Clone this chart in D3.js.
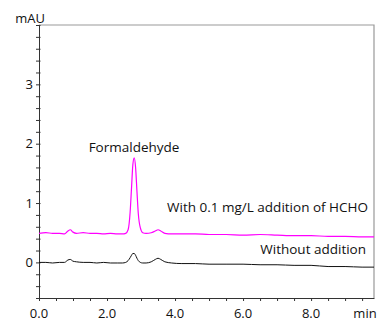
<!DOCTYPE html>
<html>
<head>
<meta charset="utf-8">
<script src="https://cdn.jsdelivr.net/npm/d3@7"></script>
<style>
  body { margin: 0; background: #fff; }
  text { font-family: "Open Sans", sans-serif; fill: #111; }
</style>
</head>
<body>
<div id="chart"></div>
<script>
// retention time (min)
const times = [0, 0.2, 0.4, 0.6, 0.75, 0.85, 0.92, 1.0, 1.1, 1.3, 1.5, 1.7, 1.9, 2.1, 2.3, 2.45,
  2.55, 2.62, 2.68, 2.72, 2.76, 2.8, 2.84, 2.88, 2.92, 2.98, 3.05, 3.15, 3.3, 3.42, 3.5, 3.58,
  3.7, 3.9, 4.2, 4.6, 5.0, 5.5, 6.0, 6.5, 7.0, 7.5, 8.0, 8.5, 9.0, 9.5, 9.85];

// with 0.1 mg/L HCHO added (mAU)
const withHcho = [0.49, 0.50, 0.49, 0.49, 0.48, 0.53, 0.55, 0.51, 0.49, 0.50, 0.49, 0.49, 0.48, 0.49, 0.48, 0.48,
  0.49, 0.55, 0.85, 1.25, 1.65, 1.76, 1.60, 1.20, 0.82, 0.58, 0.50, 0.49, 0.50, 0.53, 0.55, 0.53,
  0.49, 0.48, 0.48, 0.48, 0.47, 0.47, 0.46, 0.47, 0.46, 0.45, 0.45, 0.44, 0.44, 0.43, 0.43];

// without addition (mAU)
const withoutAdd = [0.00, 0.00, -0.01, 0.00, 0.00, 0.04, 0.05, 0.02, 0.01, 0.00, 0.00, -0.01, 0.00, -0.01, -0.01, -0.01,
  0.00, 0.03, 0.08, 0.12, 0.15, 0.15, 0.12, 0.07, 0.03, 0.00, -0.01, -0.01, 0.01, 0.05, 0.07, 0.05,
  0.01, -0.01, -0.02, -0.02, -0.03, -0.03, -0.03, -0.04, -0.04, -0.05, -0.05, -0.07, -0.07, -0.08, -0.08];

const xTickLabels = [0, 2, 4, 6, 8];
const yTickLabels = [0, 1, 2, 3];

const width = 385, height = 322;
const margin = { top: 25, right: 11, bottom: 24, left: 39 };

const x = d3.scaleLinear().domain([0, 9.85]).range([margin.left, width - margin.right]);
const y = d3.scaleLinear().domain([-0.6, 4.0]).range([height - margin.bottom, margin.top]);

const svg = d3.select('#chart')
  .append('svg')
  .attr('width', width)
  .attr('height', height);

// frame: top and right in grey
svg.append('path')
  .attr('d', `M${x(0)},${y(4)}H${x(9.85)}V${y(-0.6)}`)
  .attr('fill', 'none')
  .attr('stroke', '#999')
  .attr('stroke-width', 1.2);

// bottom axis
const xAxis = svg.append('g')
  .attr('transform', `translate(0,${y(-0.6)})`)
  .call(d3.axisBottom(x).tickValues(d3.range(0, 9.85, 0.5)).tickSize(3).tickSizeOuter(0).tickFormat(''));
xAxis.select('.domain').attr('stroke', '#333');
xAxis.selectAll('.tick line').attr('stroke', '#333');

svg.selectAll('.xlab')
  .data(xTickLabels)
  .join('text')
  .attr('class', 'xlab')
  .attr('x', d => x(d))
  .attr('y', 318)
  .attr('text-anchor', 'middle')
  .attr('font-size', 13)
  .text(d => d3.format('.1f')(d));

svg.append('text')
  .attr('x', 365).attr('y', 318)
  .attr('text-anchor', 'middle')
  .attr('font-size', 13)
  .text('min');

// left axis
const yAxis = svg.append('g')
  .attr('transform', `translate(${x(0)},0)`)
  .call(d3.axisLeft(y).tickValues(d3.range(-0.6, 4.01, 0.2)).tickSize(3).tickSizeOuter(0).tickFormat(''));
yAxis.select('.domain').attr('stroke', '#333');
yAxis.selectAll('.tick line').attr('stroke', '#333').attr('x2', 1.5).attr('x1', -3);

svg.selectAll('.ylab')
  .data(yTickLabels)
  .join('text')
  .attr('class', 'ylab')
  .attr('x', 33)
  .attr('y', d => y(d) + 4.5)
  .attr('text-anchor', 'end')
  .attr('font-size', 13)
  .text(d => d);

svg.append('text')
  .attr('x', 45).attr('y', 23)
  .attr('text-anchor', 'end')
  .attr('font-size', 13)
  .text('mAU');

// traces
const line = vals => d3.line()
  .x((d, i) => x(times[i]))
  .y(d => y(d))
  .curve(d3.curveMonotoneX)(vals);

svg.append('path')
  .attr('d', line(withoutAdd))
  .attr('fill', 'none')
  .attr('stroke', '#111')
  .attr('stroke-width', 1);

svg.append('path')
  .attr('d', line(withHcho))
  .attr('fill', 'none')
  .attr('stroke', '#ff00ff')
  .attr('stroke-width', 1.2);

// annotations
svg.append('text')
  .attr('x', 134).attr('y', 152)
  .attr('text-anchor', 'middle')
  .attr('font-size', 13.5)
  .text('Formaldehyde');

svg.append('text')
  .attr('x', 368).attr('y', 212)
  .attr('text-anchor', 'end')
  .attr('font-size', 13.5)
  .text('With 0.1 mg/L addition of HCHO');

svg.append('text')
  .attr('x', 366).attr('y', 254)
  .attr('text-anchor', 'end')
  .attr('font-size', 13.5)
  .text('Without addition');
</script>
</body>
</html>
